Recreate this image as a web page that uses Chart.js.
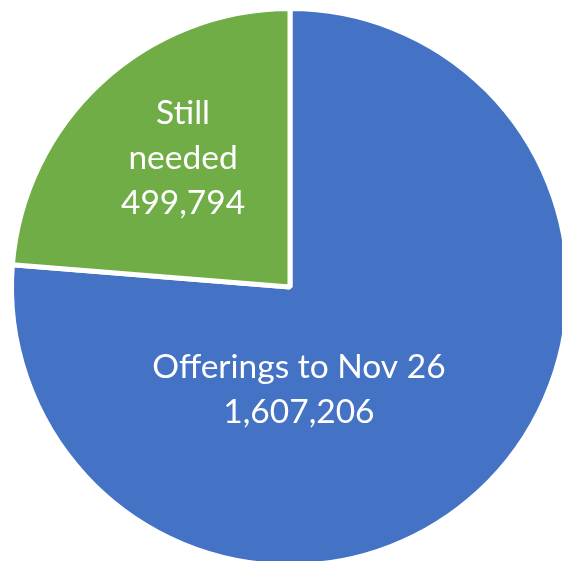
<!DOCTYPE html>
<html>
<head>
<meta charset="utf-8">
<script src="https://cdn.jsdelivr.net/npm/chart.js@4/dist/chart.umd.min.js"></script>
<style>
    html, body { margin: 0; padding: 0; background: #ffffff; overflow: hidden; }
    #wrap { position: absolute; left: 0; top: 0; width: 600px; height: 600px; }
</style>
</head>
<body>
<div id="wrap"><canvas id="offeringsPie" width="600" height="600"></canvas></div>
<script>
    const categories = ['Offerings to Nov 26', 'Still needed'];
    const labelLines = [['Offerings to Nov 26'], ['Still', 'needed']];
    const values = [1607206, 499794];
    const sliceColors = ['#4472C4', '#70AD47'];

    function formatNumber(value) {
        return Number(value).toLocaleString('en-US');
    }

    // label block centres, as fractions of the radius from the pie centre
    const labelOffsets = [
        { x: 0.032, y: 0.369 },
        { x: -0.384, y: -0.462 },
    ];

    const sliceLabels = {
        id: 'sliceLabels',
        afterDatasetsDraw(chart) {
            const ctx = chart.ctx;
            const meta = chart.getDatasetMeta(0);
            const lineHeight = 45;

            ctx.save();
            ctx.fillStyle = '#ffffff';
            ctx.font = '33.5px Lato, "Open Sans", sans-serif';
            ctx.textAlign = 'center';
            ctx.textBaseline = 'middle';

            meta.data.forEach((arc, i) => {
                const r = arc.outerRadius;
                const cx = arc.x + labelOffsets[i].x * r;
                const cy = arc.y + labelOffsets[i].y * r;
                const lines = labelLines[i].concat([formatNumber(values[i])]);
                const top = cy - ((lines.length - 1) * lineHeight) / 2;

                lines.forEach((line, k) => {
                    ctx.fillText(line, cx, top + k * lineHeight);
                });
            });

            ctx.restore();
        },
    };

    const ctx = document.getElementById('offeringsPie').getContext('2d');

    new Chart(ctx, {
        type: 'pie',
        data: {
            labels: categories,
            datasets: [
                {
                    data: values,
                    backgroundColor: sliceColors,
                    borderColor: '#ffffff',
                    borderWidth: 5,
                },
            ],
        },
        options: {
            responsive: false,
            animation: false,
            layout: {
                padding: { left: 9, top: 6, right: 29, bottom: 32 },
            },
            plugins: {
                legend: { display: false },
                tooltip: { enabled: false },
            },
        },
        plugins: [sliceLabels],
    });
</script>
</body>
</html>
